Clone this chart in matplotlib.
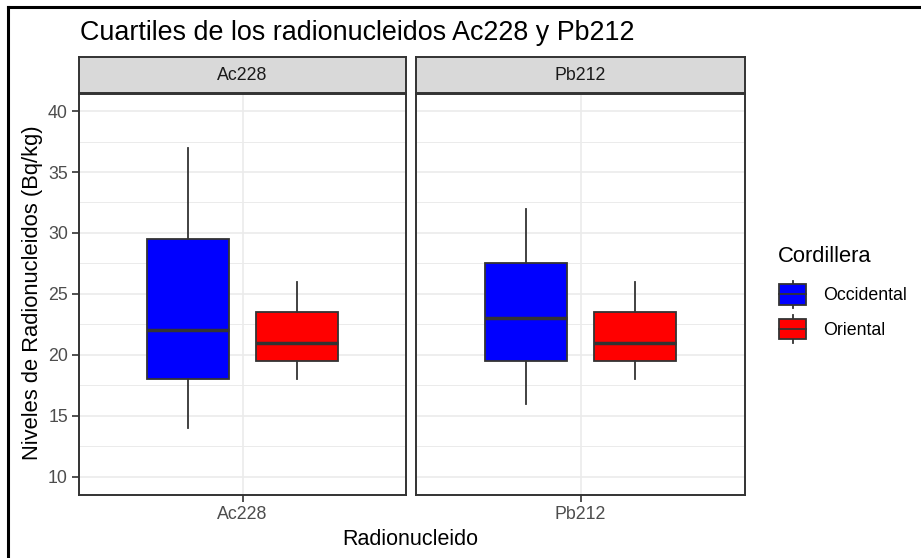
import matplotlib
matplotlib.use("Agg")
import matplotlib.pyplot as plt
from matplotlib.patches import Rectangle, Patch
from matplotlib.lines import Line2D
from matplotlib.legend_handler import HandlerBase

plt.rcParams['font.family'] = ['Liberation Sans', 'DejaVu Sans']

# data
radionuclides = ["Ac228", "Pb212"]
cordilleras = ["Occidental", "Oriental"]
colors = ["#0000FF", "#FF0000"]

whis_low = {"Ac228": [14, 18], "Pb212": [16, 18]}
q1 = {"Ac228": [18, 19.5], "Pb212": [19.5, 19.5]}
median = {"Ac228": [22, 21], "Pb212": [23, 21]}
q3 = {"Ac228": [29.5, 23.5], "Pb212": [27.5, 23.5]}
whis_high = {"Ac228": [37, 26], "Pb212": [32, 26]}

yticks = [10, 15, 20, 25, 30, 35, 40]

W, H = 921, 558
fig = plt.figure(figsize=(W / 100, H / 100), dpi=100)

edge = "#333333"
grid_c = "#EBEBEB"
tick_fs = 12.8


def px_axes(x0, y0, x1, y1):
    return fig.add_axes([x0 / W, 1 - y1 / H, (x1 - x0) / W, (y1 - y0) / H])


panels = [(79, 406), (416, 745)]
for i, (name, (x0, x1)) in enumerate(zip(radionuclides, panels)):
    ax = px_axes(x0, 94, x1, 495)
    ax.set_xlim(0.4, 1.6)
    ax.set_ylim(8.5, 41.4)
    for y in yticks:
        ax.axhline(y, color=grid_c, lw=1.2, zorder=0)
    for y in yticks[:-1]:
        ax.axhline(y + 2.5, color=grid_c, lw=0.7, zorder=0)
    ax.axvline(1, color=grid_c, lw=1.2, zorder=0)

    stats = []
    for j in range(len(cordilleras)):
        stats.append(dict(whislo=whis_low[name][j], q1=q1[name][j], med=median[name][j],
                          q3=q3[name][j], whishi=whis_high[name][j]))
    bp = ax.bxp(stats, positions=[0.8, 1.2], widths=0.3, patch_artist=True,
                showcaps=False, showfliers=False,
                boxprops=dict(edgecolor=edge, linewidth=1.3),
                medianprops=dict(color=edge, linewidth=2.5),
                whiskerprops=dict(color=edge, linewidth=1.3))
    for box, c in zip(bp["boxes"], colors):
        box.set_facecolor(c)
        box.set_zorder(2)

    ax.set_xticks([1])
    ax.set_xticklabels([name], fontsize=tick_fs, color="#4D4D4D")
    ax.set_yticks(yticks)
    ax.tick_params(axis="both", length=5, width=1.2, color=edge, pad=3)
    if i == 0:
        ax.set_yticklabels([str(v) for v in yticks], fontsize=tick_fs, color="#4D4D4D")
    else:
        ax.tick_params(axis="y", left=False, labelleft=False)
    for sp in ax.spines.values():
        sp.set_color(edge)
        sp.set_linewidth(1.4)

    st = px_axes(x0, 57, x1, 93)
    st.set_facecolor("#D9D9D9")
    st.set_xticks([])
    st.set_yticks([])
    for sp in st.spines.values():
        sp.set_color(edge)
        sp.set_linewidth(1.4)
    st.text(0.5, 0.5, name, ha="center", va="center", fontsize=tick_fs,
            color="#1A1A1A", transform=st.transAxes)

fig.text(80 / W, 1 - 40 / H, "Cuartiles de los radionucleidos Ac228 y Pb212",
         ha="left", va="baseline", fontsize=19.4, color="black")
fig.text(32.5 / W, 1 - 293 / H, "Niveles de Radionucleidos (Bq/kg)", rotation=90,
         ha="center", va="center", fontsize=15.8, color="black")
fig.text(410 / W, 1 - 545 / H, "Radionucleido", ha="center", va="baseline",
         fontsize=15.5, color="black")


class BoxHandler(HandlerBase):
    def create_artists(self, legend, orig_handle, xdescent, ydescent,
                       width, height, fontsize, trans):
        fc = orig_handle.get_facecolor()
        x0, y0 = -xdescent, -ydescent
        pad = height * 0.14
        r = Rectangle((x0, y0 + pad), width, height - 2 * pad, facecolor=fc,
                      edgecolor=edge, lw=1.3, transform=trans)
        xm = x0 + width / 2
        w1 = Line2D([xm, xm], [y0, y0 + pad], color=edge, lw=1.3, transform=trans)
        w2 = Line2D([xm, xm], [y0 + height - pad, y0 + height], color=edge, lw=1.3,
                    transform=trans)
        m = Line2D([x0, x0 + width], [y0 + height / 2] * 2, color=edge, lw=1.3,
                   transform=trans)
        return [w1, w2, r, m]


# legend title as its own text, entries as a legend below it
fig.text(778 / W, 1 - 257 / H, "Cordillera", ha="left", va="center",
         fontsize=15.8, color="black")
handles = [Patch(facecolor=c) for c in colors]
leg = fig.legend(handles, cordilleras, handler_map={Patch: BoxHandler()},
                 loc="upper left", bbox_to_anchor=(779 / W, 1 - 280.5 / H),
                 frameon=False, fontsize=tick_fs,
                 handlelength=1.52, handleheight=2.04,
                 labelspacing=0.37, handletextpad=0.95, borderaxespad=0,
                 borderpad=0)

fig.add_artist(Line2D([8 / W, 1], [1 - 6.5 / H] * 2, color="black", lw=2.2))
fig.add_artist(Line2D([8 / W] * 2, [0, 1 - 6.5 / H], color="black", lw=2.2))

fig.savefig("out.png", dpi=100)
